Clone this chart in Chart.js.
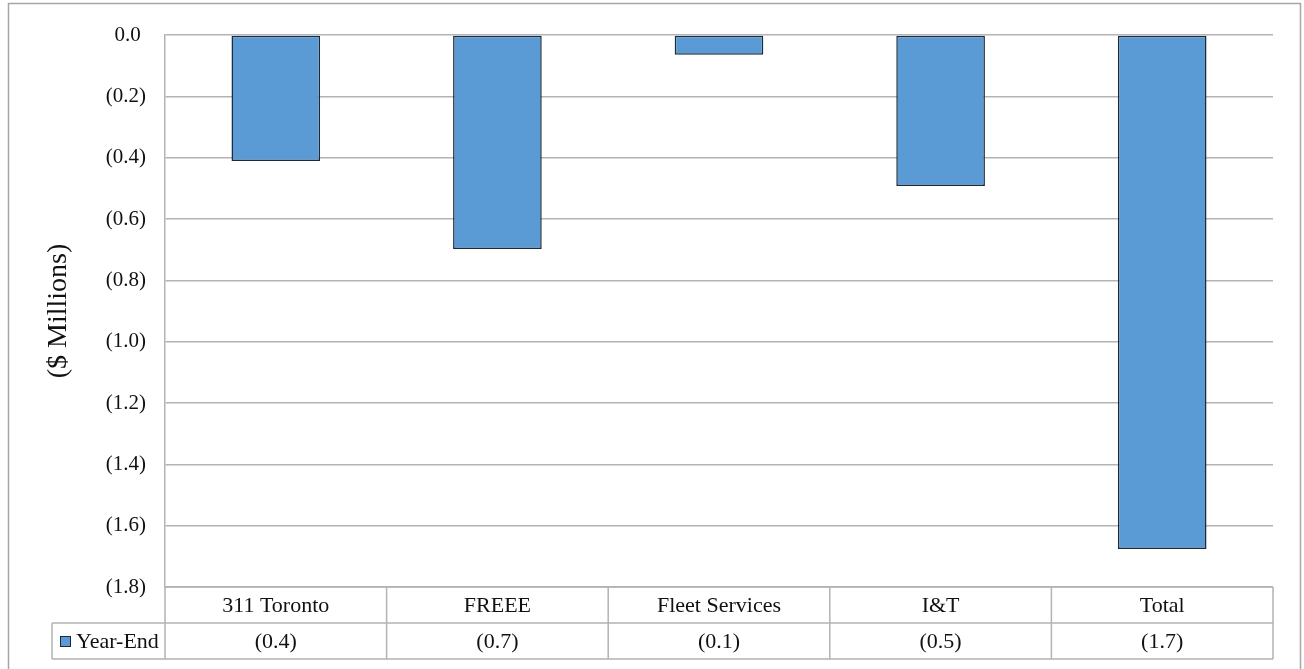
<!DOCTYPE html>
<html>
<head>
<meta charset="utf-8">
<script src="https://cdn.jsdelivr.net/npm/chart.js@4.4.1/dist/chart.umd.min.js"></script>
<style>
  html, body { margin: 0; padding: 0; background: #fff; }
  canvas { display: block; }
</style>
</head>
<body>
<canvas id="chart" width="1304" height="669"></canvas>
<script>
const categories = ['311 Toronto', 'FREEE', 'Fleet Services', 'I&T', 'Total'];
const yearEnd = [-0.411, -0.698, -0.064, -0.492, -1.676];
const seriesName = 'Year-End';
const yMin = -1.8;
const yMax = 0;
const yStep = 0.2;

const FONT = "'Liberation Serif', 'Times New Roman', serif";
const BAR_FILL = '#5b9bd5';
const BAR_EDGE = '#1c2a38';
const LINE = '#b3b3b3';

// Excel-style accounting format: negatives in parentheses, zero padded for the ")" slot
function fmt(v) {
  const r = Math.round(Math.abs(v) * 10) / 10;
  if (r === 0) return '0.0 ';
  return v < 0 ? '(' + r.toFixed(1) + ')' : r.toFixed(1) + ' ';
}

// outer frame round the whole chart
const framePlugin = {
  id: 'frame',
  beforeDraw(chart) {
    const ctx = chart.ctx;
    ctx.save();
    ctx.fillStyle = '#fff';
    ctx.fillRect(0, 0, chart.width, chart.height);
    ctx.strokeStyle = '#a6a6a6';
    ctx.lineWidth = 1.5;
    ctx.strokeRect(8.5, 3.5, chart.width - 12, chart.height + 10);
    ctx.restore();
  }
};

// data table under the plot: category row, then legend key + values row
const tablePlugin = {
  id: 'dataTable',
  afterDraw(chart) {
    const ctx = chart.ctx;
    const area = chart.chartArea;
    const xs = chart.scales.x;
    const n = categories.length;
    const colW = area.width / n;
    const rowH = 36;
    const top = area.bottom;
    const mid = top + rowH;
    const bottom = top + rowH * 2;
    const legendLeft = 52;

    ctx.save();
    ctx.strokeStyle = LINE;
    ctx.lineWidth = 1.5;
    ctx.beginPath();
    // horizontal rules
    ctx.moveTo(area.left, top); ctx.lineTo(area.right, top);
    ctx.moveTo(legendLeft, mid); ctx.lineTo(area.right, mid);
    ctx.moveTo(legendLeft, bottom); ctx.lineTo(area.right, bottom);
    // vertical rules
    ctx.moveTo(legendLeft, mid); ctx.lineTo(legendLeft, bottom);
    ctx.moveTo(area.left, top); ctx.lineTo(area.left, bottom);
    for (let i = 0; i < n; i++) {
      const edge = xs.getPixelForValue(i) + colW / 2;
      ctx.moveTo(edge, top); ctx.lineTo(edge, bottom);
    }
    ctx.stroke();

    ctx.fillStyle = '#111';
    ctx.font = '22px ' + FONT;
    ctx.textAlign = 'center';
    ctx.textBaseline = 'middle';
    categories.forEach((c, i) => {
      const cx = xs.getPixelForValue(i);
      ctx.fillText(c, cx, top + rowH / 2 + 1);
      ctx.fillText(fmt(yearEnd[i]).trim(), cx, mid + rowH / 2 + 1);
    });

    // legend key
    const ky = mid + rowH / 2;
    ctx.fillStyle = BAR_FILL;
    ctx.fillRect(60, ky - 5, 11, 11);
    ctx.strokeStyle = BAR_EDGE;
    ctx.lineWidth = 1;
    ctx.strokeRect(60.5, ky - 4.5, 10, 10);
    ctx.fillStyle = '#111';
    ctx.textAlign = 'left';
    ctx.fillText(seriesName, 76, ky + 1);
    ctx.restore();
  }
};

new Chart(document.getElementById('chart'), {
  type: 'bar',
  data: {
    labels: categories,
    datasets: [{
      label: seriesName,
      data: yearEnd,
      backgroundColor: BAR_FILL,
      borderColor: BAR_EDGE,
      borderWidth: 1.5,
      borderSkipped: false,
      categoryPercentage: 1,
      barPercentage: 0.4
    }]
  },
  options: {
    responsive: false,
    animation: false,
    devicePixelRatio: 1,
    layout: { padding: { top: 35, right: 31, bottom: 82, left: 0 } },
    plugins: {
      legend: { display: false },
      tooltip: { enabled: false }
    },
    scales: {
      x: { display: false },
      y: {
        min: yMin,
        max: yMax,
        afterFit(scale) { scale.width = 165; },
        ticks: {
          stepSize: yStep,
          padding: 19,
          color: '#111',
          font: { family: FONT, size: 21 },
          callback: v => fmt(v)
        },
        grid: { color: LINE, lineWidth: 1.5, drawTicks: false },
        border: { display: true, color: LINE, width: 1.5 },
        title: {
          display: true,
          text: '($ Millions)',
          color: '#111',
          font: { family: FONT, size: 28 },
          padding: { top: 42, bottom: 0 }
        }
      }
    }
  },
  plugins: [framePlugin, tablePlugin]
});
</script>
</body>
</html>
